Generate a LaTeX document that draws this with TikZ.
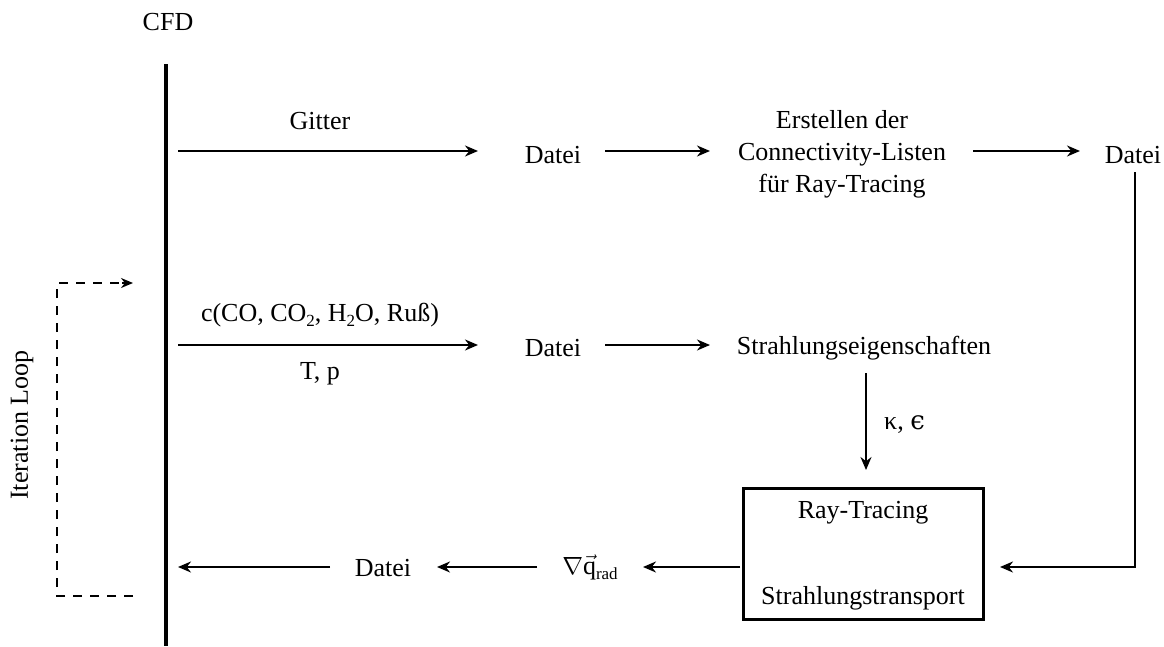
\documentclass[tikz,border=0pt]{standalone}
\usepackage{fontspec}
\setmainfont{Liberation Serif}
\newfontfamily\greekfont{DejaVu Serif}
\usetikzlibrary{arrows.meta}
\newcommand{\lowidx}[1]{\raisebox{-5pt}{\fontsize{17}{17}\selectfont #1}}
\begin{document}
\begin{tikzpicture}[x=1pt,y=-1pt,
  every node/.style={font=\fontsize{26}{32}\selectfont, inner sep=0pt, align=center},
  flow/.style={line width=2pt, -{Stealth[length=13pt,width=11pt]}},
  loop/.style={line width=1.8pt, dash pattern=on 9pt off 8pt},
  cfdline/.style={line width=4pt}]
\useasboundingbox (0,0) rectangle (1164,646);

% CFD solver as a thick vertical bar
\node (cfd) at (168,22) {CFD};
\coordinate (cfdtop) at (166,64);
\coordinate (cfdbot) at (166,646);
\draw[cfdline] (cfdtop) -- (cfdbot);

% Row 1: grid
\coordinate (g0) at (178,151);
\coordinate (g1) at (478,151);
\node (gitter) at (320,121) {Gitter};
\node (d1) at (553,155) {Datei};
\node (conn) at (842,154) {Erstellen der\\Connectivity-Listen\\für Ray-Tracing};
\node (d2) at (1133,155) {Datei};
\draw[flow] (g0) -- (g1);
\draw[flow] (605,151) -- (710,151);
\draw[flow] (973,151) -- (1080,151);

% Row 2: species and state
\coordinate (c0) at (178,345);
\coordinate (c1) at (478,345);
\node (conc) at (320,315) {c(CO, CO\lowidx{2}, H\lowidx{2}O, Ruß)};
\node (tp) at (320,374) {T, p};
\node (d3) at (553,348) {Datei};
\node (prop) at (864,348) {Strahlungseigenschaften};
\draw[flow] (c0) -- (c1);
\draw[flow] (605,345) -- (710,345);

% Ray-tracing box
\node[draw, line width=3pt, minimum width=240pt, minimum height=131pt] (rt) at (863.5,554) {};
\node (rt1) at (863,513) {Ray-Tracing};
\node (rt2) at (863,598) {Strahlungstransport};
\draw[flow] (866,373) -- (866,470);
\node[anchor=west] (ke) at (884,425) {κ, {\greekfont ϵ}};
\draw[flow] (1135,172) -- (1135,567) -- (1000,567);

% Row 3: back to CFD
\node (grad) at (590,567) {$\nabla\vec{\mbox{q}}$\lowidx{rad}};
\node (d4) at (383,568) {Datei};
\coordinate (r0) at (178,567);
\draw[flow] (740,567) -- (643,567);
\draw[flow] (537,567) -- (437,567);
\draw[flow] (330,567) -- (r0);

% Iteration loop
\coordinate (l0) at (133,596);
\coordinate (l1) at (133,283);
\draw[loop] (l0) -- (57,596) -- (57,283) -- (122,283);
\draw[line width=1.8pt, -{Stealth[length=12pt,width=10pt]}] (122,283) -- (l1);
\node[rotate=90] (iter) at (22,425) {Iteration Loop};
\end{tikzpicture}
\end{document}
